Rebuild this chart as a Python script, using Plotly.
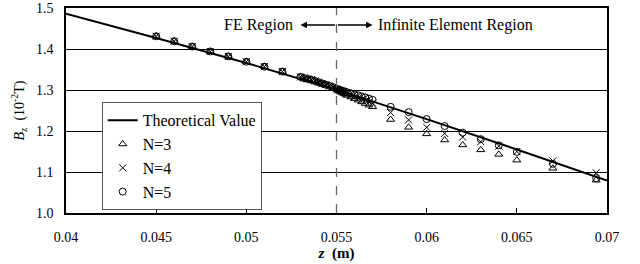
import plotly.graph_objects as go

# Theoretical curve
z_theory = [0.040, 0.045, 0.050, 0.055, 0.060, 0.065, 0.070]
b_theory = [1.486, 1.427, 1.366, 1.301, 1.229, 1.155, 1.079]

# FE region samples (all N coincide)
z_fe = [0.045, 0.046, 0.047, 0.048, 0.049, 0.050, 0.051, 0.052, 0.053, 0.0532,
        0.0534, 0.0536, 0.0538, 0.054, 0.0542, 0.0544, 0.0546, 0.0548, 0.055]
b_fe = [1.431, 1.419, 1.406, 1.394, 1.382, 1.369, 1.357, 1.345, 1.332, 1.329,
        1.327, 1.325, 1.322, 1.319, 1.316, 1.313, 1.310, 1.307, 1.303]

# Infinite element region samples
z_ie = [0.0551, 0.0552, 0.0553, 0.0554, 0.0555, 0.0556, 0.0558, 0.056, 0.0562, 0.0564,
        0.0566, 0.0568, 0.057, 0.058, 0.059, 0.060, 0.061, 0.062, 0.063, 0.064,
        0.065, 0.067, 0.0694]
b_n3 = [1.299, 1.297, 1.294, 1.292, 1.290, 1.287, 1.283, 1.279, 1.275, 1.271,
        1.267, 1.263, 1.259, 1.228, 1.209, 1.193, 1.178, 1.166, 1.154, 1.143,
        1.129, 1.109, 1.080]
b_n4 = [1.300, 1.298, 1.296, 1.294, 1.292, 1.290, 1.287, 1.283, 1.280, 1.277,
        1.274, 1.271, 1.268, 1.245, 1.227, 1.209, 1.194, 1.185, 1.174, 1.163,
        1.150, 1.127, 1.098]
b_n5 = [1.301, 1.300, 1.298, 1.297, 1.296, 1.294, 1.292, 1.289, 1.287, 1.284,
        1.282, 1.279, 1.276, 1.259, 1.246, 1.229, 1.212, 1.196, 1.180, 1.165,
        1.149, 1.120, 1.085]

y_ticks = [1.0, 1.1, 1.2, 1.3, 1.4, 1.5]
x_ticks = [0.04, 0.045, 0.05, 0.055, 0.06, 0.065, 0.07]
x_tick_text = ["0.04", "0.045", "0.05", "0.055", "0.06", "0.065", "0.07"]

FONT = "Liberation Serif"

fig = go.Figure()
fig.add_trace(go.Scatter(x=z_theory, y=b_theory, mode="lines", name="Theoretical Value",
                         line=dict(color="black", width=2)))
fig.add_trace(go.Scatter(x=z_fe + z_ie, y=b_fe + b_n3, mode="markers", name="N=3",
                         marker=dict(symbol="triangle-up-open", size=7, color="black",
                                     line=dict(width=1))))
fig.add_trace(go.Scatter(x=z_fe + z_ie, y=b_fe + b_n4, mode="markers", name="N=4",
                         marker=dict(symbol="x-thin-open", size=7, color="black",
                                     line=dict(width=1, color="black"))))
fig.add_trace(go.Scatter(x=z_fe + z_ie, y=b_fe + b_n5, mode="markers", name="N=5",
                         marker=dict(symbol="circle-open", size=7, color="black",
                                     line=dict(width=1))))

fig.add_shape(type="line", x0=0.055, x1=0.055, y0=1.0, y1=1.5, xref="x", yref="y",
              line=dict(color="#666666", width=1.3, dash="dash"))

# region annotation
fig.add_annotation(x=0.0527, y=1.4585, xref="x", yref="y", text="FE Region",
                   showarrow=False, xanchor="right", font=dict(family=FONT, size=16, color="black"))
fig.add_annotation(x=0.0572, y=1.4585, xref="x", yref="y", text="Infinite Element Region",
                   showarrow=False, xanchor="left", font=dict(family=FONT, size=16, color="black"))
fig.add_annotation(x=0.0530, y=1.4585, ax=0.0550, ay=1.4585, xref="x", yref="y",
                   axref="x", ayref="y", text="", showarrow=True, arrowhead=2,
                   arrowsize=1, arrowwidth=1.3, arrowcolor="black")
fig.add_annotation(x=0.0570, y=1.4585, ax=0.0550, ay=1.4585, xref="x", yref="y",
                   axref="x", ayref="y", text="", showarrow=True, arrowhead=2,
                   arrowsize=1, arrowwidth=1.3, arrowcolor="black")

fig.update_layout(
    width=640, height=264,
    margin=dict(l=66, r=33, t=8, b=51),
    paper_bgcolor="white", plot_bgcolor="white",
    font=dict(family=FONT, size=14, color="black"),
    showlegend=True,
    legend=dict(x=0.066, y=0.54, xanchor="left", yanchor="top",
                bgcolor="white", bordercolor="#555555", borderwidth=1,
                font=dict(family=FONT, size=16, color="black"),
                tracegroupgap=0, itemwidth=30),
    xaxis=dict(range=[0.04, 0.07], tickvals=x_ticks, ticktext=x_tick_text,
               showgrid=False, zeroline=False, showline=True, linecolor="black",
               linewidth=1.5, mirror=True, ticks="inside", ticklen=5, tickcolor="black",
               ticklabelstandoff=10, automargin=False,
               tickfont=dict(family=FONT, size=14),
               title=dict(text="<b><i>z</i>  (m)</b>", font=dict(family=FONT, size=15), standoff=0)),
    yaxis=dict(range=[1.0, 1.5], tickvals=y_ticks, tickformat=".1f",
               showgrid=True, gridcolor="black", gridwidth=1, zeroline=False,
               showline=True, linecolor="black", linewidth=1.5, mirror=True,
               ticks="", ticklabelstandoff=8, automargin=False,
               tickfont=dict(family=FONT, size=14),
               title=dict(text="<i>B</i><sub>z</sub>  (10<sup>-2</sup>T)",
                          font=dict(family=FONT, size=14), standoff=8)),
)

fig.write_html("out.html", config={"displayModeBar": False},
               post_script="document.body.style.margin='0';")
